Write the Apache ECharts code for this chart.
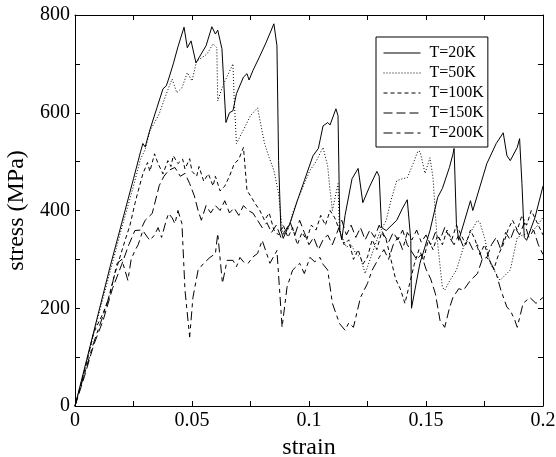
<!DOCTYPE html>
<html>
<head>
<meta charset="utf-8">
<script src="https://cdn.jsdelivr.net/npm/echarts@6/dist/echarts.min.js"></script>
<style>
  html, body { margin: 0; padding: 0; background: #fff; }
  #chart { width: 556px; height: 457px; }
</style>
</head>
<body>
<div id="chart"></div>
<script>
// stress-strain curves, [strain, stress (MPa)]
const names = ['T=20K', 'T=50K', 'T=100K', 'T=150K', 'T=200K']

const t20 = [[0,0],[0.005,95],[0.01,190],[0.015,285],[0.02,375],[0.025,465],[0.028,520],[0.029,537],[0.030,530],[0.032,565],[0.035,610],[0.0376,649],[0.039,655],[0.040,669],[0.042,700],[0.044,735],[0.0466,775],[0.048,733],[0.0496,747],[0.0517,702],[0.0534,716],[0.056,737],[0.0585,776],[0.060,761],[0.061,769],[0.0628,731],[0.0645,580],[0.066,600],[0.0675,604],[0.069,639],[0.072,673],[0.0735,680],[0.0744,667],[0.076,686],[0.079,716],[0.0816,743],[0.085,782],[0.0863,737],[0.087,502],[0.088,359],[0.089,343],[0.090,355],[0.092,375],[0.095,420],[0.098,461],[0.1017,512],[0.104,527],[0.106,573],[0.108,580],[0.109,575],[0.1115,608],[0.1124,594],[0.1132,359],[0.114,340],[0.1154,390],[0.1184,465],[0.121,486],[0.123,416],[0.126,450],[0.129,480],[0.130,470],[0.131,365],[0.133,359],[0.1375,380],[0.140,405],[0.142,422],[0.1435,339],[0.1438,200],[0.1474,292],[0.1517,359],[0.155,427],[0.157,445],[0.160,488],[0.1615,515],[0.162,527],[0.163,373],[0.164,339],[0.169,420],[0.170,400],[0.176,496],[0.180,537],[0.183,559],[0.1846,512],[0.186,502],[0.189,529],[0.190,547],[0.191,455],[0.192,345],[0.193,339],[0.1966,386],[0.2,450]]

const t50 = [[0,0],[0.005,90],[0.01,185],[0.015,275],[0.02,365],[0.025,450],[0.028,505],[0.030,525],[0.032,563],[0.034,580],[0.036,598],[0.038,625],[0.040,651],[0.0415,669],[0.0435,641],[0.0457,651],[0.048,682],[0.050,665],[0.052,706],[0.054,712],[0.0564,720],[0.059,741],[0.0606,733],[0.061,624],[0.062,639],[0.0637,661],[0.0675,700],[0.068,631],[0.069,537],[0.072,565],[0.075,594],[0.078,610],[0.081,537],[0.083,508],[0.085,482],[0.087,435],[0.088,386],[0.089,350],[0.091,360],[0.093,395],[0.095,420],[0.098,455],[0.1004,482],[0.103,500],[0.106,529],[0.108,490],[0.109,441],[0.110,400],[0.1124,455],[0.113,359],[0.116,325],[0.118,330],[0.120,312],[0.122,304],[0.124,271],[0.127,312],[0.130,353],[0.133,380],[0.135,420],[0.1375,461],[0.140,465],[0.142,467],[0.1445,496],[0.1466,522],[0.1475,520],[0.1496,476],[0.1517,508],[0.153,467],[0.154,394],[0.1547,345],[0.157,243],[0.158,237],[0.160,255],[0.163,278],[0.166,325],[0.169,355],[0.172,380],[0.173,376],[0.175,345],[0.1774,292],[0.1816,257],[0.186,278],[0.189,345],[0.193,353],[0.197,365],[0.2,386]]

const t100 = [[0,0],[0.004,70],[0.008,150],[0.012,190],[0.014,215],[0.017,270],[0.0214,339],[0.0235,370],[0.0256,414],[0.027,440],[0.029,475],[0.031,498],[0.032,480],[0.034,516],[0.0355,496],[0.0376,475],[0.0397,502],[0.041,490],[0.042,512],[0.044,496],[0.046,505],[0.047,485],[0.049,506],[0.050,480],[0.052,470],[0.053,490],[0.055,460],[0.057,475],[0.059,450],[0.060,470],[0.062,440],[0.064,450],[0.066,470],[0.068,495],[0.070,505],[0.072,529],[0.0735,441],[0.075,430],[0.077,414],[0.079,400],[0.081,380],[0.083,395],[0.085,360],[0.087,350],[0.089,370],[0.091,345],[0.093,365],[0.095,330],[0.097,355],[0.099,340],[0.101,370],[0.103,360],[0.105,390],[0.107,370],[0.109,400],[0.111,385],[0.113,360],[0.115,330],[0.117,340],[0.119,300],[0.121,320],[0.123,290],[0.125,305],[0.127,340],[0.129,320],[0.131,355],[0.133,340],[0.135,300],[0.137,260],[0.139,240],[0.141,210],[0.143,250],[0.145,290],[0.147,320],[0.149,300],[0.151,340],[0.153,320],[0.155,350],[0.157,330],[0.159,360],[0.161,340],[0.163,370],[0.165,350],[0.167,330],[0.169,360],[0.171,340],[0.173,310],[0.175,330],[0.177,300],[0.179,280],[0.181,310],[0.183,330],[0.185,360],[0.187,380],[0.189,360],[0.191,390],[0.193,370],[0.195,400],[0.197,380],[0.2,350]]

const t150 = [[0,0],[0.004,60],[0.008,125],[0.012,175],[0.016,240],[0.020,290],[0.023,330],[0.0256,359],[0.028,360],[0.030,380],[0.033,394],[0.036,451],[0.038,470],[0.040,482],[0.0427,488],[0.045,470],[0.047,476],[0.049,455],[0.051,430],[0.0526,400],[0.054,380],[0.056,410],[0.058,395],[0.060,410],[0.062,400],[0.064,420],[0.066,395],[0.068,405],[0.070,390],[0.072,410],[0.074,400],[0.076,395],[0.078,380],[0.080,365],[0.082,375],[0.084,355],[0.086,370],[0.088,345],[0.090,360],[0.092,375],[0.094,350],[0.096,380],[0.098,355],[0.100,330],[0.102,345],[0.104,320],[0.106,340],[0.108,350],[0.110,330],[0.112,355],[0.114,380],[0.116,350],[0.118,370],[0.120,345],[0.122,365],[0.124,340],[0.126,360],[0.128,345],[0.130,370],[0.132,350],[0.134,335],[0.136,355],[0.138,340],[0.140,360],[0.142,330],[0.144,315],[0.146,300],[0.148,310],[0.150,280],[0.152,260],[0.154,230],[0.156,175],[0.158,161],[0.160,200],[0.1615,222],[0.164,240],[0.166,237],[0.169,257],[0.172,271],[0.174,300],[0.176,304],[0.178,330],[0.180,345],[0.182,320],[0.184,355],[0.186,340],[0.188,365],[0.190,350],[0.192,375],[0.194,345],[0.196,360],[0.198,330],[0.2,310]]

const t200 = [[0,0],[0.004,65],[0.008,130],[0.012,185],[0.015,230],[0.018,292],[0.020,300],[0.0226,257],[0.024,300],[0.0256,318],[0.027,330],[0.029,359],[0.031,345],[0.032,339],[0.034,350],[0.0355,365],[0.037,345],[0.039,380],[0.040,394],[0.0415,385],[0.0427,373],[0.044,400],[0.0457,373],[0.047,237],[0.049,141],[0.0504,222],[0.0526,278],[0.055,292],[0.0577,304],[0.060,312],[0.061,353],[0.063,251],[0.065,298],[0.0675,298],[0.069,285],[0.0705,304],[0.072,295],[0.074,292],[0.076,305],[0.078,312],[0.080,339],[0.0833,292],[0.0863,318],[0.0885,161],[0.0906,243],[0.093,278],[0.096,292],[0.098,271],[0.1004,304],[0.1025,295],[0.1047,304],[0.106,290],[0.108,278],[0.110,210],[0.113,169],[0.1154,155],[0.117,170],[0.119,161],[0.122,222],[0.125,251],[0.127,278],[0.130,304],[0.132,320],[0.134,300],[0.136,330],[0.138,345],[0.140,320],[0.142,355],[0.144,340],[0.146,360],[0.148,335],[0.150,350],[0.152,330],[0.154,355],[0.156,340],[0.158,365],[0.160,345],[0.162,330],[0.164,350],[0.166,325],[0.168,340],[0.170,320],[0.172,330],[0.174,300],[0.176,304],[0.178,290],[0.180,271],[0.182,237],[0.1846,202],[0.186,196],[0.188,175],[0.189,161],[0.1915,210],[0.1944,222],[0.197,210],[0.2,222]]

const curves = [t20, t50, t100, t150, t200]
const dashes = ['solid', [1, 2], [4, 3], [9, 4], [9, 4, 4, 4]]

const serif = 'Liberation Serif'

const chart = echarts.init(document.getElementById('chart'))

const tickStyle = { show: true, inside: true, length: 5, lineStyle: { color: '#000', width: 1 } }
const minorStyle = { show: true, splitNumber: 2, length: 5, lineStyle: { color: '#000', width: 1 } }

function xAxisBase(pos) {
  return {
    type: 'value',
    position: pos,
    min: 0,
    max: 0.2,
    interval: 0.05,
    axisLine: { show: true, onZero: false, lineStyle: { color: '#000', width: 1 } },
    axisTick: tickStyle,
    minorTick: minorStyle,
    splitLine: { show: false }
  }
}

function yAxisBase(pos) {
  return {
    type: 'value',
    position: pos,
    min: 0,
    max: 800,
    interval: 200,
    axisLine: { show: true, onZero: false, lineStyle: { color: '#000', width: 1 } },
    axisTick: tickStyle,
    minorTick: minorStyle,
    splitLine: { show: false }
  }
}

chart.setOption({
  animation: false,
  backgroundColor: '#fff',
  grid: { left: 75, right: 13, top: 15, bottom: 51, containLabel: false, outerBoundsMode: 'none' },
  legend: {
    data: names,
    orient: 'vertical',
    left: 376,
    top: 37,
    padding: [8, 4, 6, 7],
    itemGap: 4,
    itemWidth: 37,
    itemHeight: 16,
    borderColor: '#000',
    borderWidth: 1,
    borderRadius: 0,
    backgroundColor: '#fff',
    itemStyle: { opacity: 0, borderWidth: 0 },
    lineStyle: { width: 1 },
    textStyle: { fontFamily: serif, fontSize: 16, color: '#000', padding: [0, 0, 0, 4] }
  },
  xAxis: [
    Object.assign(xAxisBase('bottom'), {
      name: 'strain',
      nameLocation: 'middle',
      nameGap: 21,
      nameTextStyle: { fontFamily: serif, fontSize: 24, color: '#000' },
      axisLabel: {
        color: '#000', fontFamily: serif, fontSize: 20, margin: 5,
        formatter: v => String(+v.toFixed(3))
      }
    }),
    Object.assign(xAxisBase('top'), { axisLabel: { show: false } })
  ],
  yAxis: [
    Object.assign(yAxisBase('left'), {
      name: 'stress (MPa)',
      nameLocation: 'middle',
      nameGap: 40,
      nameTextStyle: { fontFamily: serif, fontSize: 24, color: '#000' },
      axisLabel: { color: '#000', fontFamily: serif, fontSize: 20, margin: 5 }
    }),
    Object.assign(yAxisBase('right'), { axisLabel: { show: false } })
  ],
  series: curves.map((d, i) => ({
    name: names[i],
    type: 'line',
    data: d,
    symbol: 'none',
    showSymbol: false,
    color: '#000',
    lineStyle: { color: '#000', width: 1, type: dashes[i] }
  }))
})
</script>
</body>
</html>
